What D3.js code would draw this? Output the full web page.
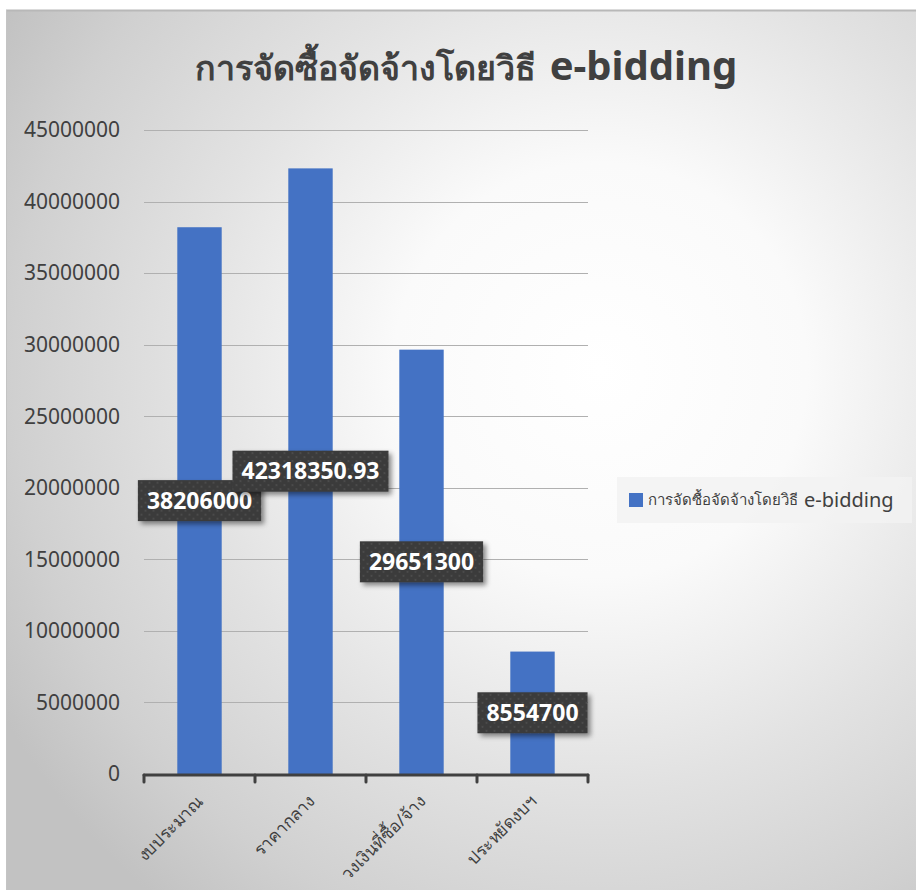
<!DOCTYPE html>
<html>
<head>
<meta charset="utf-8">
<script src="https://cdn.jsdelivr.net/npm/d3@7"></script>
<style>
  body { margin: 0; background: #fff; }
  svg { display: block; }
</style>
</head>
<body>
<svg id="chart" width="916" height="890"></svg>
<script>
var categories = ["งบประมาณ", "ราคากลาง", "วงเงินที่ซื้อ/จ้าง", "ประหยัดงบฯ"]
var values = [38206000, 42318350.93, 29651300, 8554700]
var yTicks = [0, 5000000, 10000000, 15000000, 20000000, 25000000, 30000000, 35000000, 40000000, 45000000]
var titleThai = "การจัดซื้อจัดจ้างโดยวิธี"
var titleLatin = "e-bidding"
var seriesThai = "การจัดซื้อจัดจ้างโดยวิธี"
var seriesLatin = "e-bidding"

var font = "'Noto Sans', 'DejaVu Sans', sans-serif"
var svg = d3.select("#chart")
var defs = svg.append("defs")

// background gradient of the chart frame
var grad = defs.append("radialGradient")
    .attr("id", "bg")
    .attr("gradientUnits", "userSpaceOnUse")
    .attr("cx", 600).attr("cy", 370).attr("r", 690)
grad.append("stop").attr("offset", "0").attr("stop-color", "#ffffff")
grad.append("stop").attr("offset", "0.3").attr("stop-color", "#fafafa")
grad.append("stop").attr("offset", "0.6").attr("stop-color", "#e2e2e2")
grad.append("stop").attr("offset", "0.85").attr("stop-color", "#d0d0d0")
grad.append("stop").attr("offset", "1").attr("stop-color", "#c2c2c2")

// dotted dark fill for data labels
var pat = defs.append("pattern")
    .attr("id", "dots")
    .attr("width", 8).attr("height", 8)
    .attr("patternUnits", "userSpaceOnUse")
pat.append("rect").attr("width", 8).attr("height", 8).attr("fill", "#3a3a3a")
pat.append("circle").attr("cx", 2).attr("cy", 2).attr("r", 0.9).attr("fill", "#555")
pat.append("circle").attr("cx", 6).attr("cy", 6).attr("r", 0.9).attr("fill", "#555")

var shadow = defs.append("filter").attr("id", "shadow")
    .attr("x", "-20%").attr("y", "-30%").attr("width", "150%").attr("height", "180%")
shadow.append("feDropShadow")
    .attr("dx", 3).attr("dy", 3).attr("stdDeviation", 2.5)
    .attr("flood-color", "#000").attr("flood-opacity", 0.45)

svg.append("rect")
    .attr("x", 6).attr("y", 10)
    .attr("width", 916).attr("height", 890)
    .attr("fill", "url(#bg)")
svg.append("line")
    .attr("x1", 6).attr("x2", 916).attr("y1", 10.5).attr("y2", 10.5)
    .attr("stroke", "#b8b8b8").attr("stroke-width", 2)
svg.append("line")
    .attr("x1", 6.5).attr("x2", 6.5).attr("y1", 10).attr("y2", 890)
    .attr("stroke", "#c4c4c4").attr("stroke-width", 1)

// title: two pieces, thai a bit smaller, centred together
var tThai = svg.append("text")
    .attr("y", 80)
    .style("font-family", font)
    .style("font-size", "34px")
    .style("font-weight", "600")
    .style("fill", "#404040")
    .text(titleThai)
var tLatin = svg.append("text")
    .attr("y", 80)
    .style("font-family", font)
    .style("font-size", "40px")
    .style("font-weight", "bold")
    .style("fill", "#404040")
    .text(titleLatin)
var wThai = tThai.node().getComputedTextLength()
var wLatin = tLatin.node().getComputedTextLength()
var tx0 = 466 - (wThai + 14 + wLatin) / 2
tThai.attr("x", tx0)
tLatin.attr("x", tx0 + wThai + 14)

var x = d3.scaleBand()
    .domain(categories)
    .range([144, 588])
    .padding(0)

var y = d3.scaleLinear()
    .domain([0, 45000000])
    .range([774, 130])

// gridlines and y labels
svg.append("g")
    .selectAll("line")
    .data(yTicks.filter(function(d){ return d > 0 }))
    .enter().append("line")
        .attr("x1", 144).attr("x2", 588)
        .attr("y1", function(d){ return Math.round(y(d)) + 0.5 })
        .attr("y2", function(d){ return Math.round(y(d)) + 0.5 })
        .attr("stroke", "#b0b0b0")
        .attr("stroke-width", 1)

svg.append("g")
    .selectAll("text")
    .data(yTicks).enter()
    .append("text")
        .attr("x", 120)
        .attr("y", function(d){ return y(d) })
        .attr("dy", "0.35em")
        .attr("text-anchor", "end")
        .style("font-family", font)
        .style("font-size", "21px")
        .style("fill", "#404040")
        .text(function(d){ return d })

// bars
var barW = x.bandwidth() * 0.4
svg.append("g")
    .selectAll("rect")
    .data(values).enter()
    .append("rect")
        .attr("x", function(d,i){ return x(categories[i]) + x.bandwidth()/2 - barW/2 })
        .attr("y", function(d){ return y(d) })
        .attr("width", barW)
        .attr("height", function(d){ return y(0) - y(d) })
        .attr("fill", "#4472c4")

// category axis
var axis = svg.append("g")
axis.append("line")
    .attr("x1", 144).attr("x2", 588)
    .attr("y1", 775).attr("y2", 775)
    .attr("stroke", "#404040").attr("stroke-width", 3)
    .attr("stroke-linecap", "round")
axis.selectAll(".tick")
    .data(categories.map(function(c){ return x(c) }).concat([x.range()[1]]))
    .enter().append("line")
        .attr("x1", function(d){ return d }).attr("x2", function(d){ return d })
        .attr("y1", 775).attr("y2", 782)
        .attr("stroke", "#404040").attr("stroke-width", 3)
        .attr("stroke-linecap", "round")

axis.selectAll("text")
    .data(categories).enter()
    .append("text")
        .attr("transform", function(d){
            return "translate(" + (x(d) + x.bandwidth()/2 + 1) + ",798) rotate(-45)"
        })
        .attr("text-anchor", "end")
        .attr("dy", "0.35em")
        .style("font-family", font)
        .style("font-size", "17px")
        .style("fill", "#404040")
        .text(function(d){ return d })

// data labels
var labels = svg.append("g")
    .selectAll("g")
    .data(values).enter()
    .append("g")
        .attr("transform", function(d,i){
            return "translate(" + (x(categories[i]) + x.bandwidth()/2) + "," + y(d/2) + ")"
        })

labels.append("rect").attr("class", "box")
labels.append("text")
    .attr("text-anchor", "middle")
    .attr("dy", "0.36em")
    .style("font-family", font)
    .style("font-size", "23px")
    .style("font-weight", "bold")
    .style("fill", "#fff")
    .text(function(d){ return d })

labels.each(function() {
    var g = d3.select(this)
    var w = g.select("text").node().getComputedTextLength()
    g.select("rect")
        .attr("x", -w/2 - 9).attr("y", -20.5)
        .attr("width", w + 18).attr("height", 41)
        .attr("fill", "url(#dots)")
        .attr("filter", "url(#shadow)")
})

// legend
var legend = svg.append("g")
legend.append("rect")
    .attr("x", 617).attr("y", 477)
    .attr("width", 295).attr("height", 46)
    .attr("fill", "#f2f2f2").attr("opacity", 0.85)
legend.append("rect")
    .attr("x", 629).attr("y", 493)
    .attr("width", 14).attr("height", 14)
    .attr("fill", "#4472c4")
var lThai = legend.append("text")
    .attr("x", 648).attr("y", 500)
    .attr("dy", "0.35em")
    .style("font-family", font)
    .style("font-size", "15px")
    .style("fill", "#404040")
    .text(seriesThai)
legend.append("text")
    .attr("x", 648 + lThai.node().getComputedTextLength() + 6).attr("y", 500)
    .attr("dy", "0.35em")
    .style("font-family", font)
    .style("font-size", "20px")
    .style("fill", "#404040")
    .text(seriesLatin)
</script>
</body>
</html>
